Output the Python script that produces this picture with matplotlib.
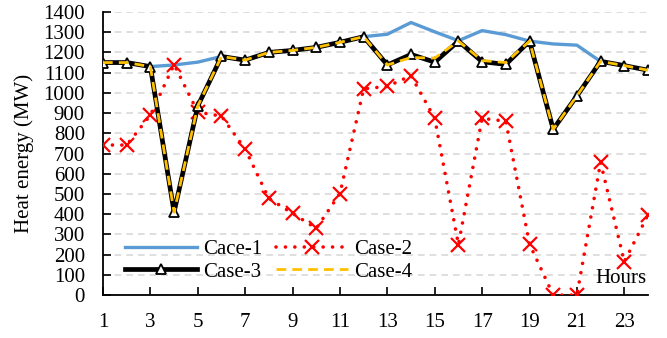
import matplotlib.pyplot as plt
from matplotlib.ticker import MultipleLocator

plt.rcParams["font.family"] = ["Liberation Serif", "DejaVu Serif"]

hours = list(range(1, 25))

case1 = [1150, 1150, 1130, 1138, 1152, 1180, 1162, 1200, 1210, 1225, 1250, 1278,
         1290, 1348, 1302, 1258, 1308, 1288, 1256, 1242, 1236, 1155, 1135, 1112]
case2 = [742, 742, 890, 1140, 905, 885, 722, 478, 404, 330, 502, 1020,
         1032, 1085, 874, 250, 874, 860, 252, 0, 0, 657, 165, 396]
case3 = [1150, 1150, 1130, 410, 935, 1180, 1162, 1200, 1210, 1225, 1250, 1278,
         1138, 1190, 1152, 1256, 1154, 1141, 1256, 820, 985, 1156, 1135, 1112]
case4 = [1150, 1150, 1130, 410, 935, 1180, 1162, 1200, 1210, 1225, 1250, 1278,
         1138, 1175, 1172, 1256, 1160, 1150, 1256, 820, 985, 1156, 1135, 1112]

series_labels = ["Cace-1", "Case-2", "Case-3", "Case-4"]
x_ticks = list(range(1, 25, 2))
FS = 15

fig = plt.figure(figsize=(6.67, 3.38), dpi=100)
ax = fig.add_axes([0.1544, 0.127, 0.8171, 0.8375])

l1, = ax.plot(hours, case1, color="#5B9BD5", lw=2.4, label=series_labels[0], zorder=3)
l2, = ax.plot(hours, case2, color="#FF0000", lw=2.6, ls=(0, (0.01, 2.6)),
              dash_capstyle="round", marker="x", ms=9.5, mew=1.6,
              label=series_labels[1], zorder=4)
l3, = ax.plot(hours, case3, color="black", lw=3.4, marker="^", ms=7.5,
              mfc="white", mec="black", mew=1.3, label=series_labels[2], zorder=5)
l4, = ax.plot(hours, case4, color="#FFC000", lw=2.0, ls=(0, (3.5, 2.2)),
              label=series_labels[3], zorder=6)

ax.set_xlim(1, 24)
ax.set_ylim(0, 1400)
ax.xaxis.set_ticks(x_ticks)
ax.yaxis.set_major_locator(MultipleLocator(100))

ax.grid(axis="y", color="#D9D9D9", lw=1.2, ls=(0, (4, 3)))
ax.set_axisbelow(True)

for side in ["top", "right"]:
    ax.spines[side].set_visible(False)
for side in ["left", "bottom"]:
    ax.spines[side].set_linewidth(1.3)

ax.tick_params(axis="x", direction="in", length=6, width=1.2, pad=13, labelsize=FS)
ax.tick_params(axis="y", direction="in", length=6, width=1.2, pad=13, labelsize=FS)

ax.set_ylabel("Heat energy (MW)", fontsize=FS, labelpad=7)

ax.text(0.998, 0.025, "Hours", transform=ax.transAxes, ha="right", va="bottom",
        fontsize=FS)

# row-wise legend order: Cace-1, Case-2 / Case-3, Case-4
ax.legend([l1, l3, l2, l4], [series_labels[0], series_labels[2],
                             series_labels[1], series_labels[3]],
          loc="lower left", bbox_to_anchor=(0.014, -0.004), ncol=2, frameon=False,
          fontsize=FS, handlelength=3.45, labelspacing=0.15, columnspacing=0.65,
          handletextpad=0.3, borderpad=0.2, numpoints=1)

fig.savefig("out.png", dpi=100)
